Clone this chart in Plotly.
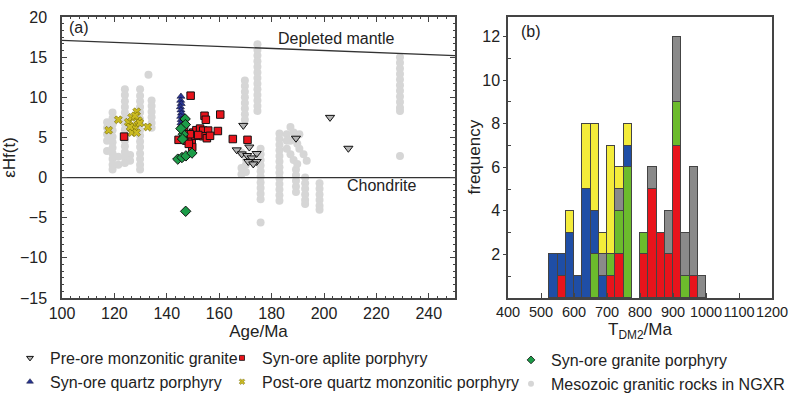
import plotly.graph_objects as go

# ---------------- Panel (a) data ----------------
pre_age = [169.2, 166.7, 171.5, 168.6, 170.7, 174.3, 172.4, 171.1, 174.3, 173.0, 189.3, 202.3, 209.3]
pre_ehf = [6.5, 3.45, 3.8, 2.95, 2.75, 3.0, 2.45, 2.0, 2.0, 1.7, 4.9, 7.5, 3.65]

aplite_age = [149.1, 123.7, 154.4, 154.9, 160.4, 146.6, 144.5, 147.5, 149.5, 150.1, 151.3, 152.7,
              153.9, 155.8, 159.5, 153.9, 155.3, 149.7, 148.4, 165.2, 170.8, 150.8, 148.8, 146.4,
              152.0, 156.5]
aplite_ehf = [10.2, 5.1, 7.7, 7.2, 7.85, 6.0, 4.7, 4.6, 4.5, 5.6, 5.9, 6.1,
              5.85, 5.85, 5.8, 5.15, 4.9, 3.8, 4.2, 4.8, 4.7, 5.2, 5.4, 5.4,
              5.3, 5.2]

granite_age = [144.2, 145.8, 147.3, 149.6, 147.0, 147.1, 146.3, 146.0, 145.4, 147.2]
granite_ehf = [2.3, 2.5, 2.7, 3.05, 7.3, 6.6, 5.4, 4.8, 6.1, -4.2]

quartz_age = [145.4, 145.3, 145.5, 145.2, 145.4, 145.6, 145.3, 145.5, 145.4, 145.6]
quartz_ehf = [10.1, 9.6, 9.2, 8.8, 8.4, 8.0, 7.6, 7.2, 6.8, 6.5]

post_age = [117.8, 121.5, 125.3, 126.6, 128.5, 127.2, 127.9, 126.6, 128.5, 129.1, 127.9, 132.7, 126.0, 129.7]
post_ehf = [5.9, 7.2, 6.9, 7.5, 8.2, 6.5, 6.1, 5.6, 5.6, 7.1, 7.7, 6.3, 6.3, 6.8]

# Mesozoic granitic rocks in NGXR (grey columns), read column by column
meso_columns = [
    (117.2, [6.9, 6.2, 5.4, 4.6, 3.3]),
    (119.3, [8.1, 7.4, 6.6, 5.9, 5.1, 4.4, 3.7, 3.0, 2.3, 1.6, 1.0]),
    (121.5, [2.6, 1.6]),
    (124.0, [11.0, 10.3, 9.5, 8.8, 8.1, 7.4, 6.7, 6.0, 5.3, 4.6, 3.9, 3.2, 2.5, 1.8]),
    (126.0, [2.8, 2.1]),
    (129.8, [11.0, 10.2, 9.5, 8.8, 8.1, 7.3, 6.6, 5.9, 5.2, 4.5, 3.8, 3.0, 2.3, 1.6, 1.0]),
    (133.0, [12.8]),
    (134.2, [9.6, 8.9, 8.2, 7.5, 6.8, 6.2]),
    (169.8, [12.1, 11.4, 10.7, 10.0, 9.3, 8.6, 7.9, 7.2]),
    (168.5, [3.1, 1.2, 0.4]),
    (170.2, [2.3, 1.6, 0.7]),
    (174.6, [16.6, 15.9, 15.2, 14.5, 13.8, 13.1, 12.4, 11.7, 11.0, 10.3, 9.6, 8.9, 8.3]),
    (175.8, [3.6, 2.9, 2.2, 1.5, 0.8, 0.1, -0.6, -1.3, -2.0, -2.7, -5.6]),
    (183.0, [5.5, 4.8, 4.1, 3.4, 2.7, 2.0, 1.3, 0.6, -0.1, -0.8, -1.5, -2.2, -2.9]),
    (185.8, [5.4, 4.6, 3.6]),
    (187.2, [6.3, 4.6, 2.9]),
    (188.4, [5.6, 2.2]),
    (189.3, [1.0, 0.3, -0.4, -1.1, -1.8]),
    (189.8, [4.2, 1.7]),
    (190.6, [5.4, 3.6]),
    (192.2, [2.9]),
    (192.8, [0.0, -0.7, -1.4, -2.1, -2.8, -3.3]),
    (193.4, [2.1]),
    (198.3, [-0.7, -1.4, -2.1, -2.8, -3.5, -4.0]),
    (229.0, [15.0, 14.3, 13.6, 12.9, 12.2, 11.5, 10.8, 10.1, 9.4, 8.7, 8.3, 2.7]),
]
meso_age = [a for a, vals in meso_columns for _ in vals]
meso_ehf = [v for _, vals in meso_columns for v in vals]

dm_age = [100, 250]
dm_ehf = [17.1, 15.2]
chur_age = [100, 250]
chur_ehf = [0, 0]

# ---------------- Panel (b) data ----------------
bin_left = [525, 550, 575, 600, 625, 650, 675, 700, 725, 750, 800, 825, 850, 875, 900, 925, 950, 975]
cnt_red = [0, 1, 0, 0, 0, 0, 0, 1, 2, 0, 2, 5, 3, 2, 7, 0, 1, 0]
cnt_green = [0, 0, 0, 0, 0, 2, 0, 1, 2, 6, 1, 0, 0, 0, 2, 1, 0, 0]
cnt_blue = [2, 1, 3, 1, 5, 2, 1, 0, 0, 1, 0, 0, 0, 0, 0, 0, 0, 0]
cnt_gray = [0, 0, 0, 0, 0, 0, 1, 0, 1, 0, 0, 1, 0, 2, 3, 2, 5, 1]
cnt_yellow = [0, 0, 1, 0, 3, 4, 1, 5, 1, 1, 0, 0, 0, 0, 0, 0, 0, 0]
bin_width = 25

FONT = "Liberation Sans, Arial, sans-serif"
AX = "#444444"

fig = go.Figure()

# panel (a)
fig.add_trace(go.Scatter(x=meso_age, y=meso_ehf, mode="markers", showlegend=False,
                         marker=dict(symbol="circle", size=8, color="#d6d6d6")))
fig.add_trace(go.Scatter(x=dm_age, y=dm_ehf, mode="lines", showlegend=False,
                         line=dict(color="#333333", width=1.3)))
fig.add_trace(go.Scatter(x=chur_age, y=chur_ehf, mode="lines", showlegend=False,
                         line=dict(color="#333333", width=1.3)))
fig.add_trace(go.Scatter(x=post_age, y=post_ehf, mode="markers", showlegend=False,
                         marker=dict(symbol="x", size=7, color="#cbbb22",
                                     line=dict(color="#6e6400", width=0.6))))
fig.add_trace(go.Scatter(x=quartz_age, y=quartz_ehf, mode="markers", showlegend=False,
                         marker=dict(symbol="triangle-up", size=7, color="#283593",
                                     line=dict(color="#111133", width=0.6))))
fig.add_trace(go.Scatter(x=aplite_age, y=aplite_ehf, mode="markers", showlegend=False,
                         marker=dict(symbol="square", size=7.5, color="#e8141c",
                                     line=dict(color="#111111", width=1))))
fig.add_trace(go.Scatter(x=granite_age, y=granite_ehf, mode="markers", showlegend=False,
                         marker=dict(symbol="diamond", size=8, color="#1c9c48",
                                     line=dict(color="#111111", width=1))))
fig.add_trace(go.Scatter(x=pre_age, y=pre_ehf, mode="markers", showlegend=False,
                         marker=dict(symbol="triangle-down", size=8, color="#b4b4b4",
                                     line=dict(color="#111111", width=1))))

# panel (b)
centers = [b + bin_width / 2 for b in bin_left]
for cnt, col in [(cnt_red, "#e8141c"), (cnt_green, "#6cbb2c"), (cnt_blue, "#1f4ea6"),
                 (cnt_gray, "#8a8a8a"), (cnt_yellow, "#f4ec3a")]:
    fig.add_trace(go.Bar(x=centers, y=[c if c else None for c in cnt], width=bin_width,
                         xaxis="x2", yaxis="y2", showlegend=False,
                         marker=dict(color=col, line=dict(color="#444444", width=1))))

# legend entries
leg = [
    ("Pre-ore monzonitic granite", dict(symbol="triangle-down", size=6, color="#b4b4b4", line=dict(color="#111", width=1)), "legend"),
    ("Syn-ore quartz porphyry", dict(symbol="triangle-up", size=6, color="#283593", line=dict(color="#111133", width=0.5)), "legend"),
    ("Syn-ore aplite porphyry", dict(symbol="square", size=5, color="#e8141c", line=dict(color="#111", width=0.8)), "legend2"),
    ("Post-ore quartz monzonitic porphyry", dict(symbol="x", size=5, color="#cbbb22", line=dict(color="#6e6400", width=0.5)), "legend2"),
    ("Syn-ore granite porphyry", dict(symbol="diamond", size=6, color="#1c9c48", line=dict(color="#111", width=0.8)), "legend3"),
    ("Mesozoic granitic rocks in NGXR", dict(symbol="circle", size=6, color="#d6d6d6"), "legend3"),
]
for name, mk, lg in leg:
    fig.add_trace(go.Scatter(x=[None], y=[None], mode="markers", name=name, marker=mk,
                             legend=lg, showlegend=True))

W, H = 796, 397
lx0, lx1, rx0, rx1 = 62 / W, 455 / W, 508 / W, 772 / W
yb, yt = 1 - 298 / H, 1 - 17 / H

legfont = dict(family=FONT, size=16, color="#222222")
common_leg = dict(font=legfont, bgcolor="rgba(0,0,0,0)", xanchor="left", yanchor="top",
                  tracegroupgap=0, itemsizing="trace", traceorder="normal")

fig.update_layout(
    width=W, height=H, margin=dict(l=0, r=0, t=0, b=0, autoexpand=False),
    paper_bgcolor="white", plot_bgcolor="white",
    font=dict(family=FONT, size=16, color="#222222"),
    barmode="stack", bargap=0,
    xaxis=dict(domain=[lx0, lx1], range=[100, 250], tick0=100, dtick=20,
               ticks="inside", ticklen=5, tickcolor=AX, showline=True, linecolor=AX, linewidth=1.5,
               mirror="allticks", showgrid=False, zeroline=False, automargin=True,
               minor=dict(tick0=100, dtick=20 / 6, ticks="inside", ticklen=2.5, tickcolor=AX),
               title=dict(text="Age/Ma", standoff=4, font=dict(size=17)), anchor="y"),
    yaxis=dict(domain=[yb, yt], range=[-15, 20], tick0=-15, dtick=5,
               ticks="inside", ticklen=5, tickcolor=AX, showline=True, linecolor=AX, linewidth=1.5,
               mirror="allticks", showgrid=False, zeroline=False, automargin=True,
               minor=dict(tick0=-15, dtick=5 / 6, ticks="inside", ticklen=2.5, tickcolor=AX),
               ticklabelstandoff=10,
               title=dict(text="εHf(t)", standoff=6, font=dict(size=17)), anchor="x"),
    xaxis2=dict(domain=[rx0, rx1], range=[400, 1200], tick0=400, dtick=100, tickangle=0,
                tickfont=dict(size=14.5),
                ticks="inside", ticklen=5, tickcolor=AX, showline=True, linecolor=AX, linewidth=1.5,
                mirror=True, showgrid=False, zeroline=False, automargin=True,
                title=dict(text="T<sub>DM2</sub>/Ma", standoff=4, font=dict(size=17)), anchor="y2"),
    yaxis2=dict(domain=[yb, yt], range=[0, 12.9], tickvals=[2, 4, 6, 8, 10, 12],
                ticks="outside", ticklen=3, tickcolor=AX, showline=True, linecolor=AX, linewidth=1.5,
                mirror=True, showgrid=False, zeroline=False, automargin=True,
                minor=dict(tickvals=[1, 3, 5, 7, 9, 11], ticks="inside", ticklen=3, tickcolor=AX),
                anchor="x2"),
    legend=dict(x=10 / W, y=1 - 341 / H, **common_leg),
    legend2=dict(x=222 / W, y=1 - 341 / H, **common_leg),
    legend3=dict(x=511 / W, y=1 - 343 / H, **common_leg),
    annotations=[
        dict(text="(a)", xref="x domain", yref="y domain", x=0.012, y=1.0, xanchor="left",
             yanchor="top", showarrow=False, font=dict(size=16)),
        dict(text="(b)", xref="x2 domain", yref="y2 domain", x=0.04, y=0.985, xanchor="left",
             yanchor="top", showarrow=False, font=dict(size=16)),
        dict(text="Depleted mantle", xref="x", yref="y", x=228, y=17.3, xanchor="right",
             yanchor="middle", showarrow=False, font=dict(size=16)),
        dict(text="Chondrite", xref="x", yref="y", x=222, y=-1.0, xanchor="center",
             yanchor="middle", showarrow=False, font=dict(size=16)),
        dict(text="frequency", xref="paper", yref="y2 domain", x=474 / W, y=0.5,
             xanchor="center", yanchor="middle", textangle=-90, showarrow=False,
             font=dict(size=17)),
    ],
)

fig.write_html("out.html", config={"displayModeBar": False},
               post_script="document.body.style.margin='0px';")
